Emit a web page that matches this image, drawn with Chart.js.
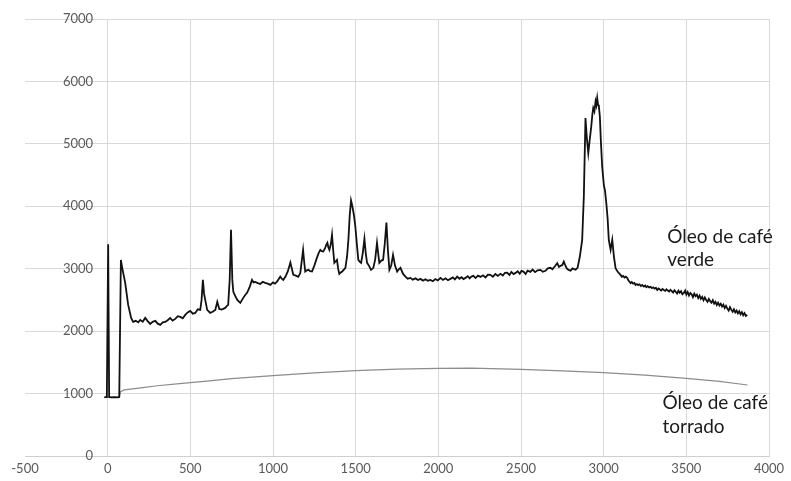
<!DOCTYPE html>
<html>
<head>
<meta charset="utf-8">
<script src="https://cdn.jsdelivr.net/npm/chart.js@4/dist/chart.umd.min.js"></script>
<style>
  body { margin: 0; background: #fff; }
  #wrap { width: 791px; height: 481px; }
</style>
</head>
<body>
<div id="wrap"><canvas id="chart"></canvas></div>
<script>
// axis ticks
const xTicks = [-500, 0, 500, 1000, 1500, 2000, 2500, 3000, 3500, 4000];
const yTicks = [0, 1000, 2000, 3000, 4000, 5000, 6000, 7000];
const seriesNames = ["Óleo de café verde", "Óleo de café torrado"];

// green coffee oil spectrum [x, intensity]
const verdePoints = [
  [-20, 940], [-5, 945], [3, 3390], [9, 945], [20, 940], [40, 942], [60, 940], [70, 945],
  [80, 3140], [88, 3014], [106, 2773], [124, 2420], [142, 2212], [154, 2148], [170, 2165],
  [185, 2140], [197, 2180], [212, 2150], [227, 2212], [242, 2160], [257, 2116], [272, 2150],
  [288, 2164], [303, 2120], [318, 2100], [333, 2140], [348, 2148], [363, 2175], [378, 2212],
  [393, 2170], [409, 2196], [424, 2240], [439, 2228], [454, 2205], [469, 2260], [484, 2300],
  [499, 2324], [515, 2280], [530, 2292], [545, 2350], [560, 2340], [568, 2500], [576, 2821],
  [583, 2600], [590, 2500], [602, 2340], [620, 2292], [635, 2310], [651, 2340], [663, 2469],
  [675, 2356], [690, 2345], [711, 2372], [720, 2400], [729, 2420], [738, 2821], [746, 3623],
  [754, 2821], [760, 2629], [772, 2560], [784, 2500], [802, 2453], [820, 2533], [832, 2580],
  [843, 2613], [858, 2700], [873, 2821], [883, 2780], [893, 2789], [908, 2770], [923, 2757],
  [938, 2790], [953, 2773], [968, 2760], [984, 2741], [1000, 2780], [1012, 2760], [1024, 2794],
  [1034, 2830], [1044, 2874], [1053, 2840], [1062, 2821], [1075, 2870], [1090, 2960], [1105, 3099],
  [1114, 3000], [1123, 2901], [1138, 2890], [1153, 2869], [1165, 2930], [1175, 3150], [1182, 3302],
  [1189, 3100], [1195, 2954], [1205, 2975], [1214, 2982], [1225, 2960], [1236, 2954], [1250, 3050],
  [1265, 3170], [1276, 3250], [1286, 3302], [1295, 3280], [1304, 3275], [1315, 3330], [1322, 3380],
  [1329, 3414], [1335, 3340], [1341, 3302], [1350, 3400], [1357, 3543], [1364, 3300], [1371, 3094],
  [1380, 3120], [1387, 3142], [1394, 3000], [1401, 2917], [1410, 2940], [1420, 2960], [1430, 2990],
  [1438, 3014], [1448, 3200], [1456, 3462], [1464, 3850], [1472, 4093], [1480, 4000], [1490, 3850],
  [1498, 3676], [1507, 3400], [1516, 3142], [1525, 3110], [1533, 3094], [1543, 3250], [1553, 3479],
  [1561, 3250], [1569, 3094], [1580, 3050], [1593, 2982], [1607, 3014], [1618, 3150], [1629, 3414],
  [1636, 3250], [1643, 3094], [1655, 3130], [1666, 3142], [1676, 3400], [1686, 3740], [1695, 3300],
  [1704, 2982], [1715, 3050], [1726, 3222], [1738, 3050], [1751, 2954], [1761, 2990], [1771, 3014],
  [1786, 2920], [1801, 2874], [1815, 2840], [1831, 2853], [1845, 2825], [1862, 2845], [1877, 2818],
  [1892, 2837], [1907, 2810], [1922, 2832], [1937, 2808], [1952, 2821], [1967, 2800], [1982, 2835],
  [1997, 2812], [2013, 2853], [2028, 2820], [2043, 2845], [2058, 2815], [2073, 2837], [2088, 2860],
  [2100, 2830], [2114, 2874], [2128, 2840], [2140, 2865], [2152, 2835], [2164, 2853], [2178, 2880],
  [2190, 2845], [2200, 2875], [2212, 2885], [2225, 2850], [2240, 2890], [2255, 2869], [2270, 2895],
  [2285, 2860], [2300, 2905], [2315, 2901], [2330, 2870], [2345, 2915], [2360, 2885], [2376, 2917],
  [2390, 2890], [2403, 2935], [2416, 2938], [2430, 2900], [2442, 2950], [2455, 2915], [2467, 2933],
  [2480, 2960], [2492, 2920], [2503, 2965], [2515, 2954], [2528, 2915], [2540, 2970], [2557, 2950],
  [2570, 2985], [2585, 2945], [2600, 2975], [2618, 2982], [2632, 2950], [2648, 2966], [2662, 3005],
  [2678, 3014], [2690, 2990], [2705, 3040], [2719, 3089], [2730, 3030], [2739, 3046], [2750, 3060],
  [2759, 3115], [2770, 3040], [2778, 3000], [2787, 2982], [2800, 2970], [2812, 3005], [2818, 2998],
  [2830, 2985], [2842, 3014], [2856, 3195], [2870, 3462], [2880, 4157], [2890, 5413], [2898, 5100],
  [2907, 4852], [2915, 5050], [2925, 5279], [2932, 5480], [2937, 5574], [2944, 5520], [2951, 5680],
  [2956, 5620], [2961, 5734], [2966, 5627], [2971, 5600], [2977, 5439], [2983, 5050], [2991, 4638],
  [3001, 4344], [3008, 4250], [3016, 4051], [3024, 3800], [3031, 3462], [3042, 3302], [3052, 3462],
  [3062, 3195], [3072, 3009], [3085, 2950], [3102, 2901], [3110, 2870], [3118, 2885], [3126, 2858],
  [3134, 2872], [3143, 2849], [3150, 2810], [3157, 2790], [3163, 2768], [3170, 2785], [3178, 2760],
  [3186, 2772], [3193, 2741], [3201, 2755], [3209, 2738], [3217, 2750], [3225, 2722], [3233, 2740],
  [3243, 2714], [3251, 2730], [3258, 2705], [3266, 2722], [3275, 2700], [3284, 2709], [3292, 2688],
  [3300, 2702], [3308, 2680], [3316, 2695], [3324, 2661], [3332, 2685], [3340, 2668], [3348, 2650],
  [3356, 2676], [3364, 2660], [3372, 2645], [3380, 2670], [3388, 2650], [3396, 2635], [3404, 2662],
  [3412, 2640], [3420, 2618], [3428, 2655], [3436, 2630], [3444, 2602], [3452, 2648], [3460, 2615],
  [3468, 2640], [3476, 2590], [3485, 2613], [3493, 2650], [3500, 2585], [3508, 2628], [3516, 2570],
  [3524, 2612], [3532, 2590], [3540, 2545], [3548, 2600], [3556, 2560], [3564, 2585], [3572, 2530],
  [3580, 2570], [3588, 2517], [3596, 2548], [3604, 2495], [3612, 2540], [3620, 2500], [3628, 2470],
  [3636, 2515], [3644, 2480], [3652, 2455], [3660, 2495], [3668, 2440], [3676, 2470], [3684, 2420],
  [3692, 2455], [3700, 2410], [3708, 2440], [3716, 2395], [3724, 2425], [3732, 2370], [3740, 2405],
  [3748, 2360], [3756, 2330], [3764, 2385], [3772, 2345], [3780, 2310], [3788, 2350], [3796, 2300],
  [3804, 2330], [3812, 2285], [3820, 2320], [3828, 2270], [3836, 2305], [3844, 2255], [3852, 2290],
  [3860, 2245], [3869, 2260]
];

// roasted coffee oil spectrum [x, intensity]
const torradoPoints = [
  [-20, 940], [70, 940], [78, 1030], [100, 1058], [200, 1090], [300, 1125], [435, 1160],
  [500, 1174], [600, 1198], [750, 1240], [1000, 1286], [1250, 1330], [1500, 1367], [1750, 1390],
  [2000, 1404], [2200, 1408], [2500, 1388], [2750, 1365], [3000, 1335], [3250, 1295],
  [3500, 1244], [3700, 1195], [3870, 1137]
];

const toXY = (pts) => pts.map((p) => ({ x: p[0], y: p[1] }));

const gridColor = "#d9d9d9";
const tickFont = { family: "Lato", size: 13 };

// series name labels next to the curves
const notesPlugin = {
  id: "notes",
  afterDraw(chart) {
    const { ctx, scales } = chart;
    const notes = [
      { lines: ["Óleo de café", "verde"], x: 3385, y: 3415 },
      { lines: ["Óleo de café", "torrado"], x: 3356, y: 749 },
    ];
    ctx.save();
    ctx.font = "19px Lato";
    ctx.fillStyle = "#1a1a1a";
    ctx.textAlign = "left";
    ctx.textBaseline = "alphabetic";
    notes.forEach((n) => {
      const px = scales.x.getPixelForValue(n.x);
      const py = scales.y.getPixelForValue(n.y);
      n.lines.forEach((line, i) => ctx.fillText(line, px, py + i * 23.5));
    });
    ctx.restore();
  },
};

new Chart(document.getElementById("chart"), {
  type: "scatter",
  data: {
    datasets: [
      {
        label: seriesNames[0],
        data: toXY(verdePoints),
        showLine: true,
        borderColor: "#111111",
        borderWidth: 1.8,
        pointRadius: 0,
        tension: 0,
      },
      {
        label: seriesNames[1],
        data: toXY(torradoPoints),
        showLine: true,
        borderColor: "#8c8c8c",
        borderWidth: 1.2,
        pointRadius: 0,
        tension: 0,
      },
    ],
  },
  options: {
    responsive: true,
    maintainAspectRatio: false,
    animation: false,
    layout: { padding: { left: 25, right: 22, top: 19, bottom: 5 } },
    plugins: {
      legend: { display: false },
      tooltip: { enabled: false },
    },
    scales: {
      x: {
        type: "linear",
        min: -500,
        max: 4000,
        afterBuildTicks: (s) => { s.ticks = xTicks.map((v) => ({ value: v })); },
        afterFit: (s) => { s.height = 20; },
        grid: {
          color: (c) => (c.tick && c.tick.value === -500 ? "rgba(0,0,0,0)" : gridColor),
          drawTicks: false,
        },
        border: { color: "#cfcfcf" },
        ticks: {
          color: "#595959", font: tickFont, padding: 5, maxRotation: 0,
          callback: (v) => String(v),
        },
      },
      y: {
        type: "linear",
        position: "left",
        min: 0,
        max: 7000,
        afterBuildTicks: (s) => { s.ticks = yTicks.map((v) => ({ value: v })); },
        afterFit: (s) => { s.width = 0; s.paddingTop = 0; s.paddingBottom = 0; },
        grid: { color: gridColor, drawTicks: false },
        border: { display: false },
        ticks: {
          color: "#595959", font: tickFont, mirror: true, crossAlign: "far", padding: 38,
          callback: (v) => String(v),
        },
      },
    },
  },
  plugins: [notesPlugin],
});
</script>
</body>
</html>
